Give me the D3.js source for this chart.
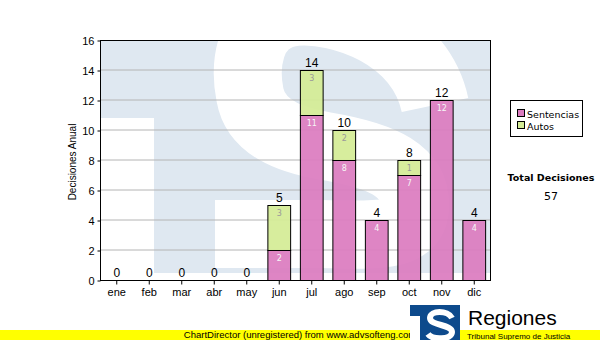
<!DOCTYPE html>
<html>
<head>
<meta charset="utf-8">
<script src="https://cdn.jsdelivr.net/npm/d3@7"></script>
<style>
  html, body { margin: 0; padding: 0; background: #fff; }
  svg { display: block; }
</style>
</head>
<body>
<svg id="chart"></svg>
<script>
// chart data
const months = ["ene", "feb", "mar", "abr", "may", "jun", "jul", "ago", "sep", "oct", "nov", "dic"]
const sentencias = [0, 0, 0, 0, 0, 2, 11, 8, 4, 7, 12, 4]
const autos = [0, 0, 0, 0, 0, 3, 3, 2, 0, 1, 0, 0]
const seriesNames = ["Sentencias", "Autos"]
const yTicks = [0, 2, 4, 6, 8, 10, 12, 14, 16]

const width = 600, height = 340
const plot = { left: 100, top: 40, right: 490, bottom: 280 }
const font = "Arial, 'Liberation Sans', sans-serif"
const font2 = "Verdana, 'DejaVu Sans', sans-serif"
const colors = { Sentencias: "#dc7cc0", Autos: "#d4ec96" }

const svg = d3.select("#chart")
	.attr("width", width)
	.attr("height", height)

const x = d3.scaleBand()
	.domain(months)
	.range([plot.left, plot.right])
	.paddingInner(0.3)
	.paddingOuter(0.15)

const y = d3.scaleLinear()
	.domain([0, 16])
	.range([plot.bottom, plot.top])

// plot background with faded logo watermark
const defs = svg.append("defs")
defs.append("clipPath").attr("id", "plotclip")
	.append("rect")
	.attr("x", plot.left).attr("y", plot.top)
	.attr("width", plot.right - plot.left).attr("height", plot.bottom - plot.top)

const bg = svg.append("g").attr("clip-path", "url(#plotclip)")
bg.append("rect")
	.attr("x", plot.left).attr("y", plot.top)
	.attr("width", plot.right - plot.left).attr("height", plot.bottom - plot.top)
	.style("fill", "#dfe8f1")
bg.append("rect") // left of the T stem
	.attr("x", plot.left).attr("y", 118)
	.attr("width", 54).attr("height", 170)
	.style("fill", "#fff")
bg.append("rect") // bottom strip
	.attr("x", plot.left).attr("y", 273)
	.attr("width", 400).attr("height", 10)
	.style("fill", "#fff")
bg.append("path") // the S
	.attr("d", "M 435,105 C 420,35 340,8 295,12 C 245,18 245,70 250,95 C 256,128 290,140 325,146 C 385,156 415,172 415,205 C 415,236 385,236 320,234 L 215,234")
	.style("fill", "none")
	.style("stroke", "#fff")
	.style("stroke-width", 68)

// grid lines
svg.append("g")
	.selectAll("line")
	.data(yTicks.slice(1, -1))
	.enter()
	.append("line")
	.attr("x1", plot.left).attr("x2", plot.right)
	.attr("y1", d => y(d)).attr("y2", d => y(d))
	.style("stroke", "#b4b4b4")
	.style("stroke-width", 1)

// stacked bars
const rows = months.map((m, i) => ({ month: m, Sentencias: sentencias[i], Autos: autos[i] }))
const stacked = d3.stack().keys(seriesNames)(rows)

const layers = svg.append("g")
	.selectAll("g")
	.data(stacked)
	.enter()
	.append("g")
	.style("fill", d => colors[d.key])

layers.selectAll("rect")
	.data(d => d.filter(s => s[1] > s[0]))
	.enter()
	.append("rect")
	.attr("x", d => x(d.data.month) + 0.5)
	.attr("y", d => y(d[1]) + 0.5)
	.attr("width", x.bandwidth())
	.attr("height", d => y(d[0]) - y(d[1]))
	.style("stroke", "#000")
	.style("stroke-width", 1)
	.style("fill-opacity", 0.93)

// values inside each segment
layers.selectAll("text")
	.data(d => d.filter(s => s[1] > s[0]).map(s => Object.assign(s, { key: d.key })))
	.enter()
	.append("text")
	.attr("x", d => x(d.data.month) + x.bandwidth() / 2 + 0.5)
	.attr("y", d => y(d[1]) + 11)
	.attr("text-anchor", "middle")
	.text(d => d[1] - d[0])
	.style("font-family", font2)
	.style("font-size", "8px")
	.style("fill", d => d.key === "Sentencias" ? "#f6f6f6" : "#9a9a9a")

// totals above bars
svg.append("g")
	.selectAll("text")
	.data(rows)
	.enter()
	.append("text")
	.attr("x", d => x(d.month) + x.bandwidth() / 2 + 0.5)
	.attr("y", d => y(d.Sentencias + d.Autos) - 3)
	.attr("text-anchor", "middle")
	.text(d => d.Sentencias + d.Autos)
	.style("font-family", font)
	.style("font-size", "12px")
	.style("fill", "#000")

// plot frame
svg.append("rect")
	.attr("x", plot.left + 0.5).attr("y", plot.top + 0.5)
	.attr("width", plot.right - plot.left).attr("height", plot.bottom - plot.top)
	.style("fill", "none")
	.style("stroke", "#000")
	.style("stroke-width", 1)

// axes
const yAxis = svg.append("g")
	.attr("transform", `translate(${plot.left + 0.5},0.5)`)
	.call(d3.axisLeft(y).tickValues(yTicks).tickSize(3).tickPadding(3))
const xAxis = svg.append("g")
	.attr("transform", `translate(0.5,${plot.bottom + 0.5})`)
	.call(d3.axisBottom(x).tickSize(4).tickPadding(4))

;[yAxis, xAxis].forEach(ax => {
	ax.select(".domain").remove()
	ax.selectAll("line").style("stroke", "#000")
	ax.selectAll("text")
		.style("font-family", font)
		.style("font-size", "11px")
		.style("fill", "#000")
})

// y axis title
svg.append("text")
	.attr("transform", `translate(76,${(plot.top + plot.bottom) / 2 + 2}) rotate(-90)`)
	.attr("text-anchor", "middle")
	.text("Decisiones Anual")
	.style("font-family", font)
	.style("font-size", "10px")
	.style("fill", "#000")

// legend
const legend = svg.append("g").attr("transform", "translate(510,100)")
legend.append("rect")
	.attr("x", 0.5).attr("y", 0.5)
	.attr("width", 72).attr("height", 36)
	.style("fill", "#fff")
	.style("stroke", "#000")
seriesNames.forEach((name, i) => {
	legend.append("rect")
		.attr("x", 7.5).attr("y", 9.5 + i * 12)
		.attr("width", 7).attr("height", 7)
		.style("fill", colors[name])
		.style("stroke", "#000")
	legend.append("text")
		.attr("x", 17).attr("y", 17.5 + i * 12)
		.text(name)
		.style("font-family", font2)
		.style("font-size", "9.5px")
		.style("fill", "#000")
})

// total box
const total = d3.sum(sentencias) + d3.sum(autos)
svg.append("text")
	.attr("x", 551).attr("y", 181)
	.attr("text-anchor", "middle")
	.text("Total Decisiones")
	.style("font-family", font2)
	.style("font-size", "9.5px")
	.style("font-weight", "bold")
	.style("fill", "#000")
svg.append("text")
	.attr("x", 551).attr("y", 200)
	.attr("text-anchor", "middle")
	.text(total)
	.style("font-family", font2)
	.style("font-size", "11px")
	.style("fill", "#000")

// unregistered banner
svg.append("rect")
	.attr("x", 0).attr("y", 330)
	.attr("width", width).attr("height", 10)
	.style("fill", "#ffff00")
svg.append("text")
	.attr("x", 300).attr("y", 338)
	.attr("text-anchor", "middle")
	.text("ChartDirector (unregistered) from www.advsofteng.com")
	.style("font-family", font)
	.style("font-size", "9.5px")
	.style("fill", "#000")

// logo at the bottom, drawn over the banner
const logo = svg.append("g")
logo.append("rect")
	.attr("x", 410).attr("y", 305)
	.attr("width", 50).attr("height", 35)
	.style("fill", "#0d4a8c")
logo.append("rect")
	.attr("x", 410).attr("y", 316)
	.attr("width", 10).attr("height", 24)
	.style("fill", "#fff")
logo.append("path")
	.attr("d", "M 452,318 C 448,310 430,310 430,318 C 430,326 452,324 452,332 C 452,340 432,340 428,334")
	.style("fill", "none")
	.style("stroke", "#fff")
	.style("stroke-width", 6)
logo.append("text")
	.attr("x", 468).attr("y", 325)
	.text("Regiones")
	.style("font-family", font)
	.style("font-size", "21px")
	.style("fill", "#000")
logo.append("text")
	.attr("x", 467).attr("y", 339)
	.text("Tribunal Supremo de Justicia")
	.style("font-family", font)
	.style("font-size", "8px")
	.style("fill", "#000")
</script>
</body>
</html>
